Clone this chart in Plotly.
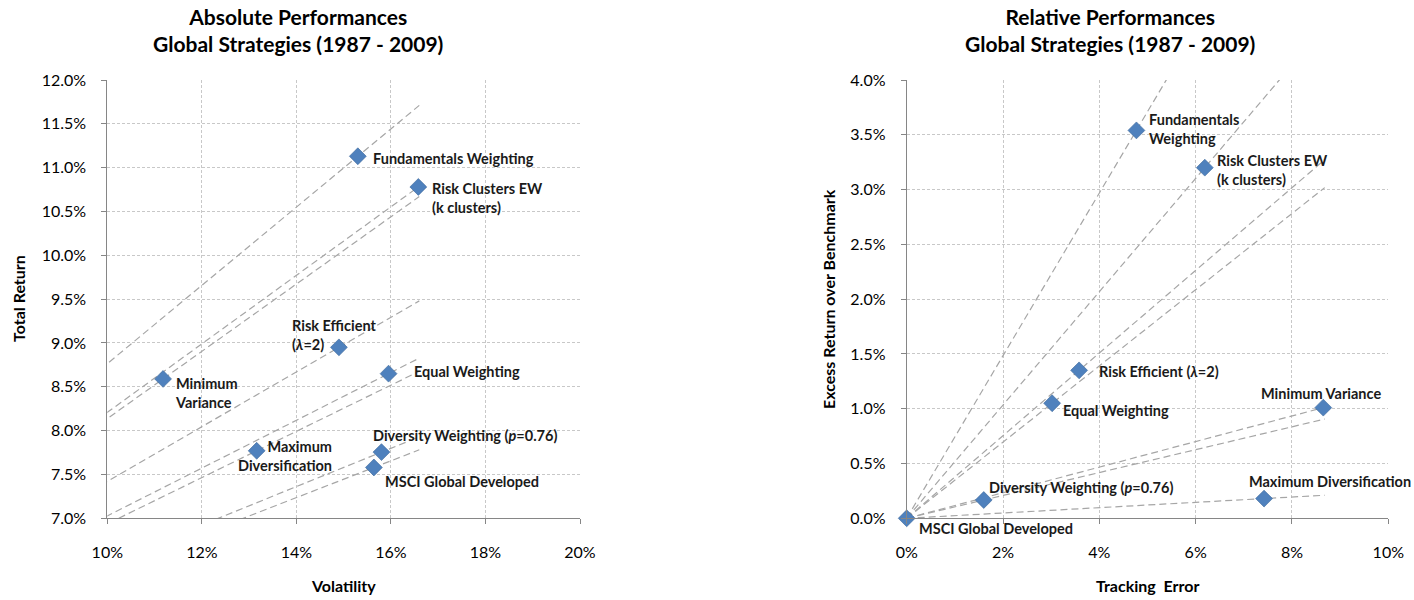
import plotly.graph_objects as go

# ---- Absolute performances (volatility vs total return, in %) ----
abs_names = ["Fundamentals Weighting", "Risk Clusters EW", "Risk Efficient", "Equal Weighting",
             "Minimum Variance", "Maximum Diversification", "Diversity Weighting", "MSCI Global Developed"]
abs_vol = [15.30, 16.58, 14.90, 15.95, 11.18, 13.16, 15.80, 15.64]
abs_ret = [11.13, 10.78, 8.95, 8.65, 8.59, 7.77, 7.755, 7.58]
risk_free = 4.3          # intercept of the Sharpe-ratio lines
abs_line_end = 16.6      # volatility where the Sharpe lines stop

# ---- Relative performances (tracking error vs excess return, in %) ----
rel_names = ["Fundamentals Weighting", "Risk Clusters EW", "Risk Efficient", "Equal Weighting",
             "Minimum Variance", "Diversity Weighting", "Maximum Diversification", "MSCI Global Developed"]
rel_te = [4.77, 6.19, 3.58, 3.02, 8.65, 1.60, 7.42, 0.0]
rel_exc = [3.54, 3.20, 1.35, 1.05, 1.01, 0.167, 0.18, 0.0]
rel_line_end = 8.68      # tracking error where the information-ratio lines stop

abs_x_ticks = [10, 12, 14, 16, 18, 20]
abs_y_ticks = [7.0, 7.5, 8.0, 8.5, 9.0, 9.5, 10.0, 10.5, 11.0, 11.5, 12.0]
rel_x_ticks = [0, 2, 4, 6, 8, 10]
rel_y_ticks = [0.0, 0.5, 1.0, 1.5, 2.0, 2.5, 3.0, 3.5, 4.0]

FONT = "Lato"
BLUE = "#4F81BD"
DASH_GREY = "#A6A6A6"
AXIS_GREY = "#868686"
GRID_GREY = "#C8C8C8"
W, H = 1414, 600

fig = go.Figure()

# Sharpe-ratio lines from the risk-free rate through each strategy
for v, r in zip(abs_vol, abs_ret):
    slope = (r - risk_free) / v
    fig.add_trace(go.Scatter(
        x=[0, abs_line_end], y=[risk_free, risk_free + slope * abs_line_end],
        mode="lines", line=dict(color=DASH_GREY, width=1.2, dash="7px,4px"),
        hoverinfo="skip", showlegend=False, xaxis="x", yaxis="y"))

# Information-ratio lines from the benchmark through each strategy
for t, e in zip(rel_te, rel_exc):
    if t == 0:
        continue
    slope = e / t
    fig.add_trace(go.Scatter(
        x=[0, rel_line_end], y=[0, slope * rel_line_end],
        mode="lines", line=dict(color=DASH_GREY, width=1.2, dash="7px,4px"),
        hoverinfo="skip", showlegend=False, xaxis="x2", yaxis="y2"))

marker = dict(symbol="diamond", size=13, color=BLUE, line=dict(width=0.6, color="#3A6699"))
fig.add_trace(go.Scatter(x=abs_vol, y=abs_ret, mode="markers", marker=marker, text=abs_names,
                         cliponaxis=False, showlegend=False, xaxis="x", yaxis="y"))
fig.add_trace(go.Scatter(x=rel_te, y=rel_exc, mode="markers", marker=marker, text=rel_names,
                         cliponaxis=False, showlegend=False, xaxis="x2", yaxis="y2"))

# Point labels: (text, xanchor, align, xshift, yshift)
abs_labels = {
    "Fundamentals Weighting": ("Fundamentals Weighting", "left", "left", 13, -2),
    "Risk Clusters EW": ("Risk Clusters EW<br>(k clusters)", "left", "left", 12, -11),
    "Risk Efficient": ("Risk Efficient<br>(<i>λ</i>=2)", "left", "left", -49, 12),
    "Equal Weighting": ("Equal Weighting", "left", "left", 23, 2),
    "Minimum Variance": ("Minimum<br>Variance", "left", "left", 10, -14),
    "Maximum Diversification": ("Maximum<br>Diversification", "right", "right", 77, -5),
    "Diversity Weighting": ("Diversity Weighting (<i>p</i>=0.76)", "left", "left", -10, 17),
    "MSCI Global Developed": ("MSCI Global Developed", "left", "left", 9, -14),
}
rel_labels = {
    "Fundamentals Weighting": ("Fundamentals<br>Weighting", "left", "left", 11, 1),
    "Risk Clusters EW": ("Risk Clusters EW<br>(k clusters)", "left", "left", 10, -2),
    "Risk Efficient": ("Risk Efficient (<i>λ</i>=2)", "left", "left", 18, -1),
    "Equal Weighting": ("Equal Weighting", "left", "left", 9, -7),
    "Minimum Variance": ("Minimum Variance", "center", "center", -2, 14),
    "Diversity Weighting": ("Diversity Weighting (<i>p</i>=0.76)", "left", "left", 3, 13),
    "Maximum Diversification": ("Maximum Diversification", "left", "left", -17, 17),
    "MSCI Global Developed": ("MSCI Global Developed", "left", "left", 10, -10),
}

label_font = dict(family=FONT, size=14.5, color="#1a1a1a", weight="bold")
annotations = []
for v, r, n in zip(abs_vol, abs_ret, abs_names):
    txt, xa, al, dx, dy = abs_labels[n]
    annotations.append(dict(x=v, y=r, xref="x", yref="y", text=txt, showarrow=False,
                            xanchor=xa, yanchor="middle", align=al, xshift=dx, yshift=dy,
                            font=label_font))
for t, e, n in zip(rel_te, rel_exc, rel_names):
    txt, xa, al, dx, dy = rel_labels[n]
    annotations.append(dict(x=t, y=e, xref="x2", yref="y2", text=txt, showarrow=False,
                            xanchor=xa, yanchor="middle", align=al, xshift=dx, yshift=dy,
                            font=label_font))

# Chart titles
title_font = dict(family=FONT, size=21, color="#000000", weight="bold")
annotations += [
    dict(x=298 / W, y=1 - 30 / H, xref="paper", yref="paper", showarrow=False,
         text="Absolute Performances<br>Global Strategies (1987 - 2009)",
         font=title_font, xanchor="center", yanchor="middle"),
    dict(x=1110 / W, y=1 - 30 / H, xref="paper", yref="paper", showarrow=False,
         text="Relative Performances<br>Global Strategies (1987 - 2009)",
         font=title_font, xanchor="center", yanchor="middle"),
]

# Axis titles
axis_title_font = dict(family=FONT, size=16, color="#000000", weight="bold")
annotations += [
    dict(x=343 / W, y=1 - 585 / H, xref="paper", yref="paper", showarrow=False,
         text="Volatility", font=axis_title_font, xanchor="center", yanchor="middle"),
    dict(x=18 / W, y=1 - 299 / H, xref="paper", yref="paper", showarrow=False,
         text="Total Return", textangle=-90, font=axis_title_font, xanchor="center", yanchor="middle"),
    dict(x=1147 / W, y=1 - 585 / H, xref="paper", yref="paper", showarrow=False,
         text="Tracking\u00a0 Error", font=axis_title_font, xanchor="center", yanchor="middle"),
    dict(x=828 / W, y=1 - 299 / H, xref="paper", yref="paper", showarrow=False,
         text="Excess Return over Benchmark", textangle=-90, font=axis_title_font,
         xanchor="center", yanchor="middle"),
]

tick_font = dict(family=FONT, size=16, color="#000000")
common_axis = dict(showgrid=True, gridcolor=GRID_GREY, griddash="3px,2px", gridwidth=1,
                   showline=True, linecolor=AXIS_GREY, linewidth=1,
                   ticks="outside", ticklen=5, tickcolor=AXIS_GREY,
                   tickfont=tick_font, zeroline=False, fixedrange=True, automargin=False)

fig.update_layout(
    width=W, height=H,
    margin=dict(l=0, r=0, t=0, b=0),
    paper_bgcolor="white", plot_bgcolor="white",
    showlegend=False,
    annotations=annotations,
    xaxis=dict(domain=[107.3 / W, 580 / W], range=[10, 20], tickvals=abs_x_ticks,
               ticktext=[f"{v}%" for v in abs_x_ticks], ticklabelstandoff=14,
               anchor="y", **common_axis),
    yaxis=dict(domain=[1 - 518.3 / H, 1 - 80 / H], range=[7, 12], tickvals=abs_y_ticks,
               ticktext=[f"{v:.1f}%" for v in abs_y_ticks], ticklabelstandoff=12,
               anchor="x", **common_axis),
    xaxis2=dict(domain=[906.7 / W, 1388.3 / W], range=[0, 10], tickvals=rel_x_ticks,
                ticktext=[f"{v}%" for v in rel_x_ticks], ticklabelstandoff=14,
                anchor="y2", **common_axis),
    yaxis2=dict(domain=[1 - 518.3 / H, 1 - 80 / H], range=[0, 4], tickvals=rel_y_ticks,
                ticktext=[f"{v:.1f}%" for v in rel_y_ticks], ticklabelstandoff=12,
                anchor="x2", **common_axis),
)

fig.write_html("out.html")
